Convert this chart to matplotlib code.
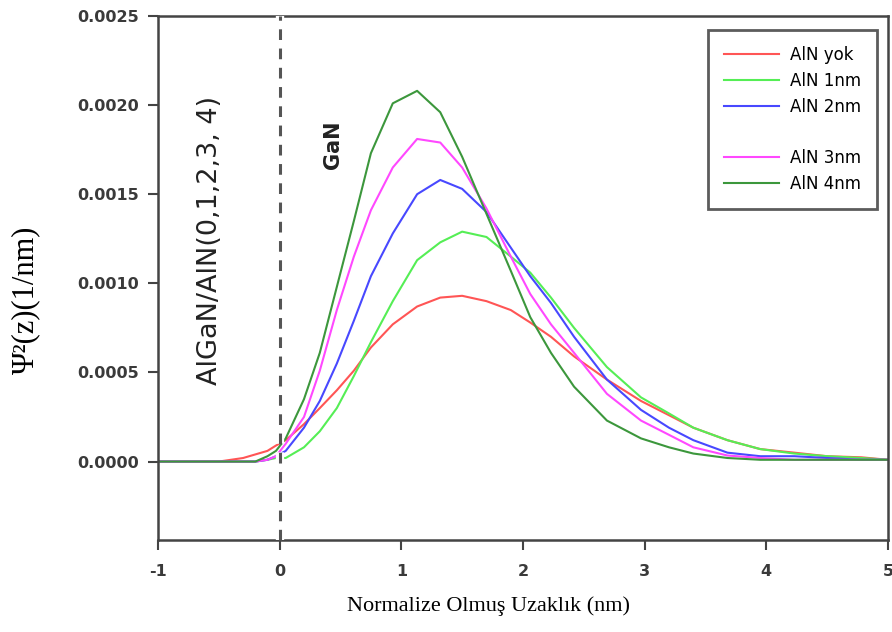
import matplotlib
matplotlib.use('Agg')
import matplotlib.pyplot as plt
import matplotlib.patheffects as pe

# Position along growth direction (nm), 0 = AlGaN/AlN | GaN interface
z = [-1.0, -0.5, -0.3, -0.2, -0.1, -0.03, 0.05, 0.2, 0.33, 0.47, 0.61, 0.75, 0.93,
     1.13, 1.32, 1.5, 1.7, 1.9, 2.06, 2.23, 2.42, 2.69, 2.97, 3.2, 3.4, 3.68,
     3.95, 4.23, 4.5, 4.78, 5.0]

# |psi|^2 for each AlN interlayer thickness (1/nm)
psi_yok = [0, 0, 0.00002, 0.00004, 0.00006, 0.00009, 0.00012, 0.00021, 0.0003, 0.0004,
           0.00051, 0.00064, 0.00077, 0.00087, 0.00092, 0.00093, 0.0009, 0.00085,
           0.00078, 0.0007, 0.00059, 0.00046, 0.00034, 0.00026, 0.00019, 0.00012,
           0.00007, 0.00005, 0.00003, 0.000024, 0.00001]
psi_1nm = [0, 0, 0, 0, 0.00001, 0.00002, 0.00002, 0.00008, 0.00017, 0.0003, 0.00048,
           0.00067, 0.0009, 0.00113, 0.00123, 0.00129, 0.00126, 0.00115, 0.00106,
           0.00092, 0.00075, 0.00053, 0.00036, 0.00027, 0.00019, 0.00012, 0.00007,
           0.000045, 0.00003, 0.00002, 0.00001]
psi_2nm = [0, 0, 0, 0, 0.00001, 0.00003, 0.00006, 0.00019, 0.00034, 0.00055, 0.00079,
           0.00104, 0.00128, 0.0015, 0.00158, 0.00153, 0.0014, 0.0012, 0.00104,
           0.00089, 0.0007, 0.00046, 0.00029, 0.00019, 0.00012, 0.00005, 0.00003,
           0.00003, 0.00002, 0.00001, 0.00001]
psi_3nm = [0, 0, 0, 0, 0.00001, 0.00003, 0.0001, 0.00025, 0.00051, 0.00085, 0.00115,
           0.00141, 0.00165, 0.00181, 0.00179, 0.00165, 0.00142, 0.00115, 0.00094,
           0.00077, 0.00061, 0.00038, 0.00023, 0.00015, 0.00008, 0.000034, 0.00002,
           0.00001, 0.00001, 0.00001, 0.00001]
psi_4nm = [0, 0, 0, 0, 0.00003, 0.00006, 0.00013, 0.00035, 0.00061, 0.00098, 0.00135,
           0.00173, 0.00201, 0.00208, 0.00196, 0.00171, 0.00139, 0.00107, 0.00081,
           0.00061, 0.00042, 0.00023, 0.00013, 0.00008, 0.000045, 0.00002, 0.00001,
           0.00001, 0.00001, 0.00001, 0.00001]

labels = ['AlN yok', 'AlN 1nm', 'AlN 2nm', 'AlN 3nm', 'AlN 4nm']
colors = ['#ff5555', '#55ee55', '#4848ff', '#ff48ff', '#3c973c']
series = [psi_yok, psi_1nm, psi_2nm, psi_3nm, psi_4nm]

xticks = [-1, 0, 1, 2, 3, 4, 5]
yticks = [0.0, 0.0005, 0.0010, 0.0015, 0.0020, 0.0025]

fig = plt.figure(figsize=(8.92, 6.32), dpi=100)
ax = fig.add_axes([0.1771, 0.1456, 0.8184, 0.8291])

lines = []
for y, c, lab in zip(series, colors, labels):
    ln, = ax.plot(z, y, color=c, lw=1.5, label=lab)
    lines.append(ln)

# interface marker
ax.axvline(0, color='#555555', lw=2.2, ls=(0, (3.5, 2.8)), zorder=5,
           clip_on=False,
           path_effects=[pe.Stroke(linewidth=6, foreground='white'), pe.Normal()])

ax.set_xlim(-1, 5)
ax.set_ylim(-0.00044, 0.0025)
ax.set_xticks(xticks)
ax.set_yticks(yticks)
ax.set_xticklabels([str(t) for t in xticks])
ax.set_yticklabels([f'{t:.4f}' for t in yticks])

for s in ax.spines.values():
    s.set_color('#444444')
    s.set_linewidth(1.8)
ax.tick_params(axis='y', direction='out', length=7, width=1.5, color='#444444',
               pad=7, labelsize=11.5, labelcolor='#3a3a3a')
ax.tick_params(axis='x', direction='out', length=7, width=1.5, color='#444444',
               pad=10, labelsize=11.5, labelcolor='#3a3a3a')
for t in ax.get_xticklabels() + ax.get_yticklabels():
    t.set_fontweight('bold')
    t.set_family('DejaVu Sans')

ax.set_xlabel('Normalize Olmuş Uzaklık (nm)', family='Liberation Serif', fontsize=16)
ax.xaxis.set_label_coords(0.453, -0.108)
ax.set_ylabel('Ψ²(z)(1/nm)', family='Liberation Serif', fontsize=22)
ax.yaxis.set_label_coords(-0.162, 0.458)

ax.text(-0.57, 0.00124, 'AlGaN/AlN(0,1,2,3, 4)', rotation=90, ha='center',
        va='center', fontsize=19.5, color='#222222', family='DejaVu Sans')
ax.text(0.44, 0.001775, 'GaN', rotation=90, ha='center', va='center',
        fontsize=15, fontweight='bold', color='#222222', family='DejaVu Sans')

# blank row between 2nm and 3nm entries
blank = plt.Line2D([], [], color='none', label=' ')
handles = lines[:3] + [blank] + lines[3:]
leg = ax.legend(handles=handles, loc='upper left', bbox_to_anchor=(0.753, 0.973),
                fontsize=12, frameon=True, fancybox=False, handlelength=3.3,
                handletextpad=0.7, labelspacing=0.47, borderpad=0.95,
                borderaxespad=0)
leg.get_frame().set_edgecolor('#333333')
leg.get_frame().set_linewidth(2)

fig.savefig('out.png', dpi=100)
